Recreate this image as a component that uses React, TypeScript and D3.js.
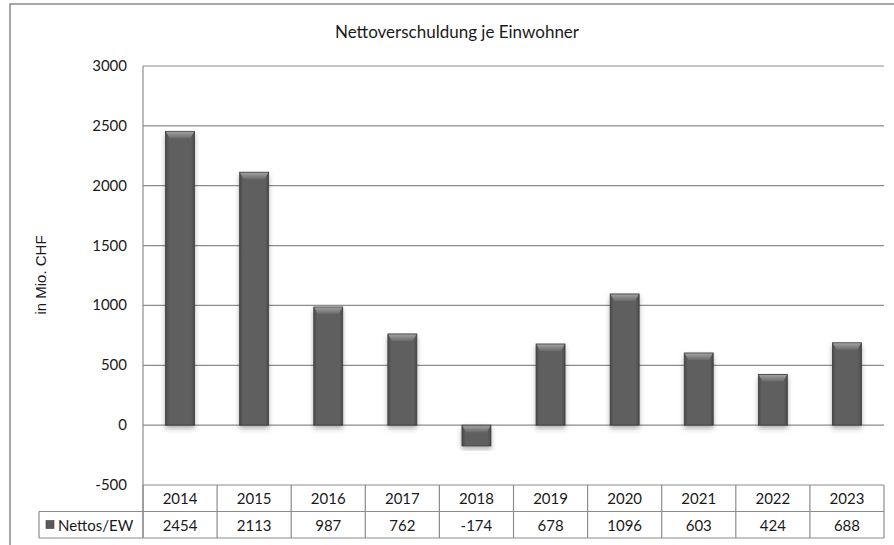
import React from "react";
import { scaleLinear, scaleBand, range } from "d3";

const years = ["2014", "2015", "2016", "2017", "2018", "2019", "2020", "2021", "2022", "2023"];
const nettos = [2454, 2113, 987, 762, -174, 678, 1096, 603, 424, 688];
const yTicks = [-500, 0, 500, 1000, 1500, 2000, 2500, 3000];
const seriesName = "Nettos/EW";
const title = "Nettoverschuldung je Einwohner";
const yLabel = "in Mio. CHF";

const W = 894;
const H = 545;
const left = 143;
const right = 884;
const top = 66;
const bottom = 485;
const rowH = 26.5;
const legendLeft = 39;

const App: React.FC = () => {
  const x = scaleBand<string>().domain(years).range([left, right]);
  const y = scaleLinear().domain([-500, 3000]).range([bottom, top]);
  const barW = 29;
  const font = "Lato, 'Open Sans', sans-serif";
  const lineCol = "#8c8c8c";

  return (
    <svg width={W} height={H} style={{ position: "absolute", left: 0, top: 0, background: "#fff" }}>
      <defs>
        <linearGradient id="bevel" x1="0" y1="0" x2="0" y2="1">
          <stop offset="0" stopColor="#a0a0a0" />
          <stop offset="1" stopColor="#6a6a6a" />
        </linearGradient>
        <linearGradient id="body" x1="0" y1="0" x2="1" y2="0">
          <stop offset="0" stopColor="#4a4a4a" />
          <stop offset="0.12" stopColor="#5f5f5f" />
          <stop offset="0.88" stopColor="#5f5f5f" />
          <stop offset="1" stopColor="#4a4a4a" />
        </linearGradient>
        <filter id="shadow" x="-30%" y="-10%" width="160%" height="130%">
          <feDropShadow dx="0" dy="3" stdDeviation="2.5" floodColor="#000" floodOpacity="0.3" />
        </filter>
      </defs>

      {/* outer frame */}
      <path d={`M10,${H} V4 H${W}`} fill="none" stroke="#8a8a8a" strokeWidth={1.5} />

      <text x={457} y={38} textAnchor="middle" fontFamily={font} fontSize={17} fill="#1a1a1a">
        {title}
      </text>

      <text
        transform={`translate(46,275) rotate(-90)`}
        textAnchor="middle"
        fontFamily="'Liberation Sans', Arial, sans-serif"
        fontSize={15}
        fill="#1a1a1a"
      >
        {yLabel}
      </text>

      {/* gridlines + ticks */}
      {yTicks.map((t) => (
        <g key={t}>
          <line x1={left} x2={right} y1={y(t)} y2={y(t)} stroke={lineCol} strokeWidth={1.2} />
          <text x={127} y={y(t) + 5} textAnchor="end" fontFamily={font} fontSize={15} fill="#1a1a1a">
            {t}
          </text>
        </g>
      ))}
      <line x1={left} x2={left} y1={top} y2={bottom + rowH * 2} stroke={lineCol} strokeWidth={1.2} />

      {/* bars */}
      {nettos.map((v, i) => {
        const cx = (x(years[i]) as number) + x.bandwidth() / 2;
        const bx = cx - barW / 2;
        const y0 = y(Math.max(0, v));
        const y1 = y(Math.min(0, v));
        const h = y1 - y0;
        const bev = 7;
        return (
          <g key={years[i]}>
            <rect x={bx} y={y0} width={barW} height={h} fill="url(#body)" stroke="#3c3c3c" strokeWidth={0.8} filter="url(#shadow)" />
            <path
              d={`M${bx + 0.5},${y0 + 0.5} H${bx + barW - 0.5} L${bx + barW - 4},${y0 + bev} H${bx + 4} Z`}
              fill="url(#bevel)"
            />
          </g>
        );
      })}

      {/* data table */}
      <line x1={legendLeft} x2={right} y1={bottom + rowH} y2={bottom + rowH} stroke={lineCol} strokeWidth={1.2} />
      <line x1={legendLeft} x2={right} y1={bottom + rowH * 2} y2={bottom + rowH * 2} stroke={lineCol} strokeWidth={1.2} />
      <line x1={legendLeft} x2={legendLeft} y1={bottom + rowH} y2={bottom + rowH * 2} stroke={lineCol} strokeWidth={1.2} />
      {range(years.length + 1).map((i) => {
        const lx = left + i * x.step();
        return <line key={i} x1={lx} x2={lx} y1={bottom} y2={bottom + rowH * 2} stroke={lineCol} strokeWidth={1.2} />;
      })}
      {years.map((yr, i) => {
        const cx = (x(yr) as number) + x.bandwidth() / 2;
        return (
          <g key={yr} fontFamily={font} fontSize={15} fill="#1a1a1a" textAnchor="middle">
            <text x={cx} y={bottom + 19}>{yr}</text>
            <text x={cx} y={bottom + rowH + 19}>{nettos[i]}</text>
          </g>
        );
      })}
      <rect x={46} y={bottom + rowH + 9} width={8} height={8} fill="#5a5a5a" stroke="#3c3c3c" strokeWidth={0.6} />
      <text x={58} y={bottom + rowH + 19} fontFamily={font} fontSize={15} fill="#1a1a1a">
        {seriesName}
      </text>
    </svg>
  );
};

export default App;
